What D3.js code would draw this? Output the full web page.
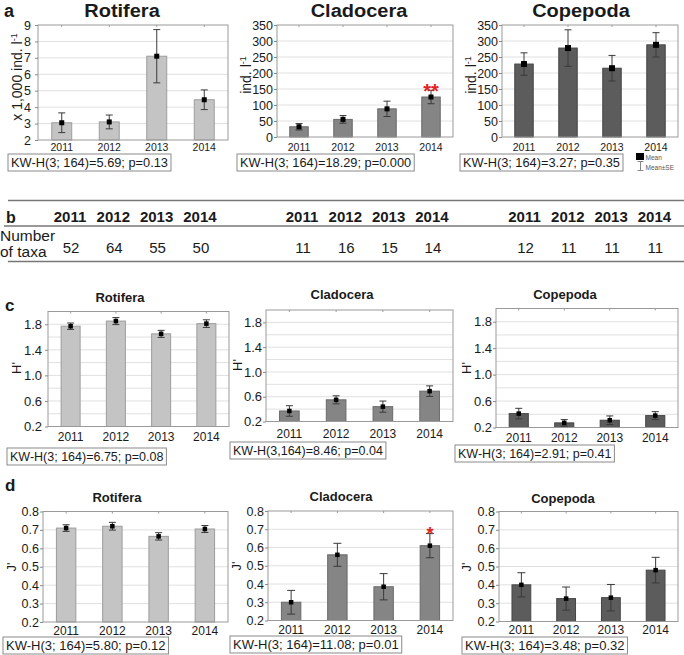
<!DOCTYPE html>
<html>
<head>
<meta charset="utf-8">
<script src="https://cdn.jsdelivr.net/npm/d3@7"></script>
<style>
  body { margin: 0; background: #fff; }
  svg { display: block; font-family: "Liberation Sans", Arial, sans-serif; }
</style>
</head>
<body>
<svg id="fig" width="684" height="655"></svg>
<script>
// ---- data ----
const years = ['2011', '2012', '2013', '2014'];

// a: density (mean, SE)
const rotDensMean = [3.05, 3.1, 7.1, 4.45];
const rotDensSE = [0.6, 0.42, 1.62, 0.6];
const claDensMean = [32, 55, 88, 125];
const claDensSE = [10, 12, 24, 21];
const copDensMean = [228, 278, 215, 288];
const copDensSE = [35, 57, 40, 38];

// b: number of taxa
const rotTaxa = [52, 64, 55, 50];
const claTaxa = [11, 16, 15, 14];
const copTaxa = [12, 11, 11, 11];

// c: Shannon H'
const rotHMean = [1.77, 1.85, 1.65, 1.81];
const rotHSE = [0.05, 0.055, 0.055, 0.06];
const claHMean = [0.37, 0.55, 0.44, 0.69];
const claHSE = [0.085, 0.065, 0.09, 0.085];
const copHMean = [0.41, 0.27, 0.31, 0.38];
const copHSE = [0.08, 0.05, 0.065, 0.06];

// d: Pielou J'
const rotJMean = [0.71, 0.72, 0.665, 0.705];
const rotJSE = [0.018, 0.021, 0.02, 0.019];
const claJMean = [0.30, 0.56, 0.385, 0.61];
const claJSE = [0.065, 0.063, 0.072, 0.066];
const copJMean = [0.40, 0.325, 0.33, 0.48];
const copJSE = [0.066, 0.063, 0.072, 0.07];

const claDensSig = ['', '', '', '**'];
const claJSig = ['', '', '', '*'];

const kwA = ['KW-H(3; 164)=5.69; p=0.13', 'KW-H(3; 164)=18.29; p=0.000', 'KW-H(3; 164)=3.27; p=0.35'];
const kwC = ['KW-H(3; 164)=6.75; p=0.08', 'KW-H(3,164)=8.46; p=0.04', 'KW-H(3; 164)=2.91; p=0.41'];
const kwD = ['KW-H(3; 164)=5.80; p=0.12', 'KW-H(3; 164)=11.08; p=0.01', 'KW-H(3; 164)=3.48; p=0.32'];

const fills = { rot: '#c4c4c4', cla: '#858585', cop: '#5c5c5c' };
const strokes = { rot: '#9c9c9c', cla: '#6a6a6a', cop: '#454545' };

const svg = d3.select('#fig');

// text with optional horizontal/vertical squeeze
function txt(g, s, x, y, o = {}) {
  return g.append('text')
    .attr('transform', `translate(${x},${y}) scale(${o.sx || 1},${o.sy || 1})`)
    .attr('font-size', o.size || 12)
    .attr('font-weight', o.bold ? 'bold' : null)
    .attr('text-anchor', o.anchor || 'start')
    .attr('fill', o.fill || '#1a1a1a')
    .text(s);
}

function yLabel(g, parts, x, cy, size) {
  const t = g.append('text')
    .attr('transform', `translate(${x},${cy}) rotate(-90)`)
    .attr('text-anchor', 'middle')
    .attr('font-size', size)
    .attr('fill', '#1a1a1a');
  parts.forEach(p => {
    const s = t.append('tspan').text(p.t);
    if (p.sup) s.attr('font-size', size * 0.65).attr('baseline-shift', '55%');
  });
}

function panel(p) {
  const g = svg.append('g');
  const x = d3.scaleBand().domain(years).range([p.x0, p.x1]).paddingInner(p.pad).paddingOuter(p.pad / 2);
  const y = d3.scaleLinear().domain(p.domain).range([p.y1, p.y0]);

  g.selectAll('.grid').data(p.grid).enter().append('line')
    .attr('x1', p.x0).attr('x2', p.x1)
    .attr('y1', d => y(d)).attr('y2', d => y(d))
    .attr('stroke', '#e0e0e0');

  g.selectAll('.bar').data(p.mean).enter().append('rect')
    .attr('x', (d, i) => x(years[i]))
    .attr('width', x.bandwidth())
    .attr('y', d => y(d))
    .attr('height', d => y(p.domain[0]) - y(d))
    .attr('fill', fills[p.taxon])
    .attr('stroke', strokes[p.taxon]);

  g.append('rect')
    .attr('x', p.x0).attr('y', p.y0)
    .attr('width', p.x1 - p.x0).attr('height', p.y1 - p.y0)
    .attr('fill', 'none').attr('stroke', '#9a9a9a');

  // small inner ticks on the top border
  g.selectAll('.tt').data(years).enter().append('line')
    .attr('x1', d => x(d) + x.bandwidth() / 2).attr('x2', d => x(d) + x.bandwidth() / 2)
    .attr('y1', p.y0).attr('y2', p.y0 + 2).attr('stroke', '#9a9a9a');

  const cx = i => x(years[i]) + x.bandwidth() / 2;
  const err = g.selectAll('.err').data(p.mean).enter().append('g').attr('stroke', '#3a3a3a');
  err.append('line')
    .attr('x1', (d, i) => cx(i)).attr('x2', (d, i) => cx(i))
    .attr('y1', (d, i) => y(d - p.se[i])).attr('y2', (d, i) => y(d + p.se[i]));
  [-1, 1].forEach(s => {
    err.append('line')
      .attr('x1', (d, i) => cx(i) - p.cap).attr('x2', (d, i) => cx(i) + p.cap)
      .attr('y1', (d, i) => y(d + s * p.se[i])).attr('y2', (d, i) => y(d + s * p.se[i]));
  });

  g.selectAll('.mk').data(p.mean).enter().append('rect')
    .attr('x', (d, i) => cx(i) - p.mk / 2).attr('y', d => y(d) - p.mk / 2)
    .attr('width', p.mk).attr('height', p.mk).attr('fill', '#000');

  if (p.sig) {
    p.sig.forEach((s, i) => {
      if (!s) return;
      const top = y(p.mean[i] + p.se[i]);
      txt(g, s, cx(i), top - 4 + 0.575 * p.sigSize, { size: p.sigSize, bold: true, anchor: 'middle', fill: '#e3231c' });
    });
  }

  g.append('g')
    .attr('transform', `translate(${p.x0},0)`)
    .call(d3.axisLeft(y).tickValues(p.ticks).tickSize(3).tickPadding(p.tickPad).tickFormat(p.fmt))
    .attr('font-family', null).attr('font-size', p.yFont)
    .call(a => a.select('.domain').remove())
    .call(a => a.selectAll('line').attr('stroke', '#8a8a8a'))
    .call(a => a.selectAll('text').attr('fill', '#1a1a1a'));

  years.forEach((yr, i) => txt(g, yr, cx(i), p.xLabY, { size: p.xFont, anchor: 'middle' }));

  txt(g, p.title, p.titleX, p.titleY, { size: p.titleSize, bold: true, anchor: 'middle', sy: p.titleSy || 1 });
  yLabel(g, p.yLab, p.yLabX, p.yLabY, p.yLabSize);

  // KW-H box
  const kb = g.append('g');
  const box = kb.append('rect')
    .attr('x', p.kwX).attr('y', p.kwY).attr('height', p.kwH)
    .attr('fill', '#fff').attr('stroke', '#8a8a8a');
  const kt = txt(kb, p.kw, p.kwX + 3, p.kwY + p.kwH - 4.5, { size: p.kwSize });
  box.attr('width', kt.node().getBBox().width + 6);
}

// ---- panel a ----
const aCommon = { pad: 0.58, cap: 3.5, mk: 5, xFont: 10.5, yFont: 12.5, titleSize: 20, titleSy: 0.88,
  titleY: 17, yLabSize: 14, yLabY: 77, kwSize: 12.8, kwH: 17, fmt: d3.format('d') };
panel(Object.assign({}, aCommon, {
  taxon: 'rot', mean: rotDensMean, se: rotDensSE, x0: 38, x1: 228, y0: 25, y1: 140,
  domain: [2, 9], ticks: d3.range(2, 10), grid: d3.range(3, 9), tickPad: 4, xLabY: 151,
  title: 'Rotifera', titleX: 122, yLab: [{ t: 'x 1,000 ind. l' }, { t: '-1', sup: true }], yLabX: 22,
  kw: kwA[0], kwX: 8, kwY: 154
}));
panel(Object.assign({}, aCommon, {
  taxon: 'cla', mean: claDensMean, se: claDensSE, x0: 277, x1: 453, y0: 25, y1: 137,
  domain: [0, 350], ticks: d3.range(0, 351, 50), grid: d3.range(50, 350, 50), tickPad: 1, xLabY: 151,
  title: 'Cladocera', titleX: 359, yLab: [{ t: 'ind. l' }, { t: '-1', sup: true }], yLabX: 251, yLabY: 75,
  kw: kwA[1], kwX: 237, kwY: 154, sig: claDensSig, sigSize: 20
}));
panel(Object.assign({}, aCommon, {
  taxon: 'cop', mean: copDensMean, se: copDensSE, x0: 502, x1: 678, y0: 25, y1: 137,
  domain: [0, 350], ticks: d3.range(0, 351, 50), grid: d3.range(50, 350, 50), tickPad: 1, xLabY: 151, mk: 6,
  title: 'Copepoda', titleX: 581, yLab: [{ t: 'ind. l' }, { t: '-1', sup: true }], yLabX: 476, yLabY: 75,
  kw: kwA[2], kwX: 460, kwY: 154
}));

// legend
const lg = svg.append('g');
lg.append('rect').attr('x', 636).attr('y', 153).attr('width', 8).attr('height', 7).attr('fill', '#000');
txt(lg, 'Mean', 645.5, 159.5, { size: 6.5, fill: '#555' });
lg.append('path').attr('d', 'M637.5,161.5H643.5M640.5,161.5V170.5M637.5,170.5H643.5').attr('stroke', '#888').attr('fill', 'none');
txt(lg, 'Mean±SE', 645.5, 170, { size: 6.5, fill: '#555' });

// ---- panel b ----
const tb = svg.append('g');
[[200.5, 8], [226, 4], [261.5, 8]].forEach(([yy, xs]) => {
  tb.append('line').attr('x1', xs).attr('x2', 684).attr('y1', yy).attr('y2', yy)
    .attr('stroke', '#777').attr('stroke-width', 1.3);
});
const groupStarts = [70, 302, 524.5];
[rotTaxa, claTaxa, copTaxa].forEach((vals, gi) => {
  const xs = d3.scalePoint().domain(years).range([groupStarts[gi], groupStarts[gi] + 3 * 43.3]);
  years.forEach(yr => txt(tb, yr, xs(yr), 221.7, { size: 15, bold: true, anchor: 'middle' }));
  vals.forEach((v, i) => txt(tb, v, xs(years[i]) + 1, 253.3, { size: 15, anchor: 'middle' }));
});
txt(tb, 'Number', 0, 240.7, { size: 15.5 });
txt(tb, 'of taxa', 0, 257.3, { size: 15.5 });

// ---- panel c ----
const cCommon = { pad: 0.58, cap: 3.5, mk: 4.5, xFont: 12, yFont: 13, titleSize: 13, yLabSize: 13,
  kwSize: 12.5, kwH: 17, domain: [0.2, 2.0], ticks: [0.2, 0.6, 1.0, 1.4, 1.8],
  grid: [0.4, 0.6, 0.8, 1.0, 1.2, 1.4, 1.6, 1.8], fmt: d3.format('.1f'), yLab: [{ t: "H'" }] };
panel(Object.assign({}, cCommon, {
  taxon: 'rot', mean: rotHMean, se: rotHSE, x0: 48, x1: 229, y0: 311.5, y1: 426.5, tickPad: 3, xLabY: 441,
  title: 'Rotifera', titleX: 120, titleY: 301.5, yLabX: 21, yLabY: 368, kw: kwC[0], kwX: 7, kwY: 448
}));
panel(Object.assign({}, cCommon, {
  taxon: 'cla', mean: claHMean, se: claHSE, x0: 266, x1: 453, y0: 310, y1: 421.5, tickPad: 1, xLabY: 437.5,
  title: 'Cladocera', titleX: 342, titleY: 299, yLabX: 242, yLabY: 365, kw: kwC[1], kwX: 230, kwY: 442
}));
panel(Object.assign({}, cCommon, {
  taxon: 'cop', mean: copHMean, se: copHSE, x0: 496, x1: 678, y0: 308.5, y1: 427.5, tickPad: 1, xLabY: 441.5,
  title: 'Copepoda', titleX: 565, titleY: 299, yLabX: 471, yLabY: 368, kw: kwC[2], kwX: 455, kwY: 445
}));

// ---- panel d ----
const dCommon = { pad: 0.58, cap: 4, mk: 4.5, xFont: 12, yFont: 12.5, titleSize: 13, yLabSize: 13,
  kwSize: 13, kwH: 17, domain: [0.2, 0.8], ticks: d3.range(0.2, 0.81, 0.1),
  grid: d3.range(0.3, 0.75, 0.1), fmt: d3.format('.1f'), yLab: [{ t: "J'" }] };
panel(Object.assign({}, dCommon, {
  taxon: 'rot', mean: rotJMean, se: rotJSE, x0: 43, x1: 228, y0: 511.5, y1: 622, tickPad: 1, xLabY: 635,
  title: 'Rotifera', titleX: 117, titleY: 501.5, yLabX: 16, yLabY: 567, kw: kwD[0], kwX: 3, kwY: 637, cap: 3.5
}));
panel(Object.assign({}, dCommon, {
  taxon: 'cla', mean: claJMean, se: claJSE, x0: 268, x1: 453, y0: 511, y1: 620.5, tickPad: 1, xLabY: 633.5,
  title: 'Cladocera', titleX: 341, titleY: 500.5, yLabX: 241, yLabY: 566, kw: kwD[1], kwX: 230, kwY: 636,
  sig: claJSig, sigSize: 18
}));
panel(Object.assign({}, dCommon, {
  taxon: 'cop', mean: copJMean, se: copJSE, x0: 499, x1: 678, y0: 511.5, y1: 621.5, tickPad: 1, xLabY: 634,
  title: 'Copepoda', titleX: 563, titleY: 502.5, yLabX: 471, yLabY: 567, kw: kwD[2], kwX: 462, kwY: 637
}));

// panel letters
[['a', 4, 16.5, 18], ['b', 6, 222.7, 16], ['c', 5, 311, 17], ['d', 5, 490.5, 17]].forEach(([s, x, y, f]) => {
  txt(svg, s, x, y, { size: f, bold: true });
});
</script>
</body>
</html>
